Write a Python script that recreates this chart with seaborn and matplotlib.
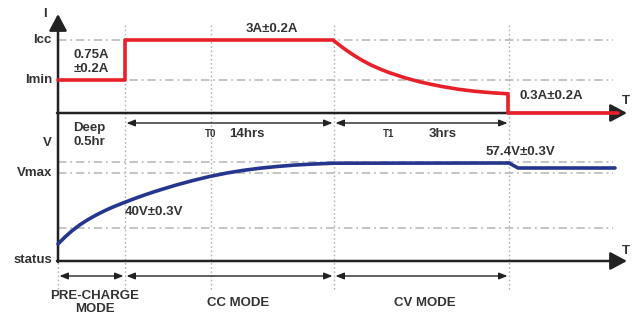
"""Charging profile schematic: current and voltage vs time, pre-charge / CC / CV modes."""

import matplotlib
matplotlib.use("Agg")
import matplotlib.pyplot as plt
import seaborn as sns
import pandas as pd

# schematic units: x along the time axis, y downward from the top edge
t_phase = [58, 125, 334, 509]        # origin, end pre-charge, end CC, end CV
t0_mark = 211
t_end = 627

# current trace
i_axis = 113
i_levels = [40, 80]                  # Icc, Imin
cur_t = [58, 125, 125, 333, 340, 347, 355, 363, 371, 380, 388, 397, 405, 413,
         421, 430, 442, 458, 475, 492, 508, 508, 618]
cur_y = [80, 80, 40, 40, 45.5, 50.7, 56, 60.8, 65, 69, 72.2, 75.2, 77.8, 80,
         82.1, 84.1, 86.5, 89.2, 91.3, 92.8, 93.8, 113, 113]

# voltage trace
v_axis = 261
v_levels = [162, 173, 228]
volt_t = [58, 65, 72, 80, 88, 96, 105, 113, 122, 130, 138, 146, 155, 165, 177,
          193, 210, 227, 243, 260, 277, 293, 310, 334, 509, 518, 615]
volt_y = [244, 237, 230.8, 224.7, 219.6, 215.1, 210.6, 207, 203.4, 200.3, 197.3, 194.5,
          191.5, 188.4, 184.8, 180.5, 176.4, 173, 170.4, 168.2, 166.5, 165.2, 164.2,
          163.2, 163, 168, 168]

left_labels = [("I", 45, 14), ("Icc", 52, 40), ("Imin", 52, 80), ("V", 52, 143),
               ("Vmax", 52, 173), ("status", 52, 260)]

RED = "#e8202a"
BLUE = "#25368f"
INK = "#333333"
GRID = "#b4b4b4"

sns.set_theme(style="white")
plt.rcParams["font.family"] = ["Liberation Sans", "DejaVu Sans"]
plt.rcParams["font.weight"] = "bold"

fig = plt.figure(figsize=(6.33, 3.15), dpi=100)
ax = fig.add_axes([0, 0, 1, 1])

# guide lines
for x in t_phase + [t0_mark]:
    ax.plot([x, x], [25, 291], color=GRID, lw=1, ls=(0, (1.2, 1.8)), zorder=1)
for y in i_levels + v_levels:
    ax.plot([58, 613], [y, y], color=GRID, lw=1.1, ls=(0, (5.5, 2.5, 1.2, 2.5)), zorder=1)

# curves
cur = pd.DataFrame({"t": cur_t, "i": cur_y})
volt = pd.DataFrame({"t": volt_t, "v": volt_y})
sns.lineplot(data=cur, x="t", y="i", sort=False, estimator=None, color=RED, lw=2.6,
             solid_joinstyle="round", ax=ax, zorder=4)
sns.lineplot(data=volt, x="t", y="v", sort=False, estimator=None, color=BLUE, lw=2.6,
             solid_joinstyle="round", ax=ax, zorder=4)
ax.set_xlim(0, 633)
ax.set_ylim(315, 0)
ax.axis("off")

# axes with arrowheads
big = dict(arrowstyle="-|>,head_length=0.84,head_width=0.45", color="#222222",
           lw=1.8, shrinkA=0, shrinkB=0, mutation_scale=12)
ax.annotate("", xy=(58, 14), xytext=(58, 262), arrowprops=big, zorder=3)
ax.annotate("", xy=(t_end, i_axis), xytext=(57, i_axis), arrowprops=big, zorder=3)
ax.annotate("", xy=(t_end, v_axis), xytext=(57, v_axis), arrowprops=big, zorder=3)

small = dict(arrowstyle="<|-|>,head_length=0.5,head_width=0.2", color="#222222",
             lw=1, shrinkA=0, shrinkB=0, mutation_scale=10)
for a, b in zip(t_phase[1:-1], t_phase[2:]):
    ax.annotate("", xy=(a + 1.5, 123), xytext=(b - 1.5, 123), arrowprops=small)
for a, b in zip(t_phase[:-1], t_phase[1:]):
    ax.annotate("", xy=(a + 1.5, 276), xytext=(b - 1.5, 276), arrowprops=small)

# text
fs = 9.5
for s, x, y in left_labels:
    ax.text(x, y, s, ha="right" if s != "I" else "center", va="center",
            fontsize=fs, color=INK)
ax.text(626, 101, "T", ha="center", va="center", fontsize=fs, color=INK)
ax.text(626, 251, "T", ha="center", va="center", fontsize=fs, color=INK)

ax.text(74, 62, "0.75A\n±0.2A", ha="left", va="center", fontsize=fs, color=INK, linespacing=1.25)
ax.text(73, 135, "Deep\n0.5hr", ha="left", va="center", fontsize=fs, color=INK, linespacing=1.25)
ax.text(272, 29, "3A±0.2A", ha="center", va="center", fontsize=fs, color=INK)
ax.text(551, 96, "0.3A±0.2A", ha="center", va="center", fontsize=fs, color=INK)
ax.text(520, 152, "57.4V±0.3V", ha="center", va="center", fontsize=fs, color=INK)
ax.text(154, 212, "40V±0.3V", ha="center", va="center", fontsize=fs, color=INK)

ax.text(211, 134, "T0", ha="center", va="center", fontsize=7, color=INK)
ax.text(247, 134, "14hrs", ha="center", va="center", fontsize=fs, color=INK)
ax.text(389, 134, "T1", ha="center", va="center", fontsize=7, color=INK)
ax.text(443, 134, "3hrs", ha="center", va="center", fontsize=fs, color=INK)

ax.text(95, 302.5, "PRE-CHARGE\nMODE", ha="center", va="center", fontsize=fs, color=INK, linespacing=1.05)
ax.text(238, 303, "CC MODE", ha="center", va="center", fontsize=fs, color=INK)
ax.text(425, 303, "CV MODE", ha="center", va="center", fontsize=fs, color=INK)

fig.savefig("out.png", dpi=100)
